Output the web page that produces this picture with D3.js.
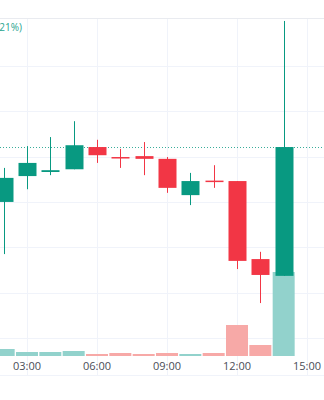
<!DOCTYPE html>
<html>
<head>
<meta charset="utf-8">
<script src="https://cdn.jsdelivr.net/npm/d3@7"></script>
<style>
  html, body { margin: 0; padding: 0; background: #fff; }
  svg { display: block; font-family: "Open Sans", "Noto Sans", sans-serif; }
</style>
</head>
<body>
<svg id="chart" width="324" height="400"></svg>
<script>
// hourly candles, 02:00 .. 14:00
var hours = [2, 3, 4, 5, 6, 7, 8, 9, 10, 11, 12, 13, 14];
var opens  = [13.00, 13.57, 13.66, 13.72, 14.21, 13.99, 14.01, 13.95, 13.15, 13.47, 13.46, 11.74, 11.37];
var highs  = [13.75, 14.23, 14.43, 14.78, 14.37, 14.17, 14.32, 13.99, 13.64, 13.81, 13.46, 11.90, 16.99];
var lows   = [11.85, 13.28, 13.59, 13.72, 13.86, 13.75, 13.59, 13.20, 12.93, 13.31, 11.52, 10.77, 11.37];
var closes = [13.53, 13.86, 13.70, 14.25, 14.03, 13.97, 13.95, 13.31, 13.46, 13.45, 11.70, 11.39, 14.21];
var volumes = [700, 400, 400, 500, 200, 300, 200, 300, 200, 300, 3100, 1100, 8400];

var timeTicks = [3, 6, 9, 12, 15];
var priceTicks = [10, 11, 12, 13, 14, 15, 16, 17];
var changeLabel = '+0.68 (+5.21%)';

var svg = d3.select('#chart');
var width = 324;

var up = '#089981', down = '#f23645';
var volUp = '#92d2cc', volDown = '#f7a9a7';

var x = d3.scaleLinear().domain([3, 15]).range([27, 307]);
var y = d3.scaleLinear().domain([10, 17]).range([338, 20.5]);
var yVol = d3.scaleLinear().domain([0, 10000]).range([356, 256]);

var candles = hours.map(function(h, i) {
    return {t: h, o: opens[i], h: highs[i], l: lows[i], c: closes[i], v: volumes[i]};
});

// grid
svg.append('g').selectAll('line')
    .data(priceTicks.slice(0, -1))
    .enter().append('line')
    .attr('x1', 0).attr('x2', width)
    .attr('y1', function(d) { return Math.round(y(d)) + 0.5; })
    .attr('y2', function(d) { return Math.round(y(d)) + 0.5; })
    .attr('stroke', '#f0f3fa');

svg.append('g').selectAll('line')
    .data(timeTicks)
    .enter().append('line')
    .attr('y1', 18).attr('y2', 375)
    .attr('x1', function(d) { return Math.round(x(d)) + 0.5; })
    .attr('x2', function(d) { return Math.round(x(d)) + 0.5; })
    .attr('stroke', '#f0f3fa');

// pane borders
svg.append('line').attr('x1', 0).attr('x2', width).attr('y1', 18.5).attr('y2', 18.5)
    .attr('stroke', '#e9ebf0');
svg.append('line').attr('x1', 0).attr('x2', width).attr('y1', 375.5).attr('y2', 375.5)
    .attr('stroke', '#f0f3fa');

// volume
var barW = 22;
svg.append('g').selectAll('rect')
    .data(candles)
    .enter().append('rect')
    .attr('x', function(d) { return x(d.t) - barW / 2; })
    .attr('width', barW)
    .attr('y', function(d) { return yVol(d.v); })
    .attr('height', function(d) { return yVol(0) - yVol(d.v); })
    .attr('fill', function(d) { return d.c >= d.o ? volUp : volDown; });

// last price line
var last = candles[candles.length - 1];
svg.append('line')
    .attr('x1', 0).attr('x2', width)
    .attr('y1', Math.round(y(last.c)) + 0.5).attr('y2', Math.round(y(last.c)) + 0.5)
    .attr('stroke', up).attr('stroke-width', 1).attr('stroke-dasharray', '1,2')
    .attr('opacity', 0.8);

// candles
var bodyW = 18;
var g = svg.append('g').selectAll('g')
    .data(candles)
    .enter().append('g');

g.append('line')
    .attr('x1', function(d) { return Math.round(x(d.t)) + 0.5; })
    .attr('x2', function(d) { return Math.round(x(d.t)) + 0.5; })
    .attr('y1', function(d) { return y(d.h); })
    .attr('y2', function(d) { return y(d.l); })
    .attr('stroke', function(d) { return d.c >= d.o ? up : down; });

g.append('rect')
    .attr('x', function(d) { return Math.round(x(d.t)) + 0.5 - bodyW / 2; })
    .attr('width', bodyW)
    .attr('y', function(d) { return y(Math.max(d.o, d.c)); })
    .attr('height', function(d) { return Math.max(1.5, Math.abs(y(d.o) - y(d.c))); })
    .attr('fill', function(d) { return d.c >= d.o ? up : down; });

// time axis labels
svg.append('g').selectAll('text')
    .data(timeTicks)
    .enter().append('text')
    .attr('x', function(d) { return x(d); })
    .attr('y', 370)
    .attr('text-anchor', 'middle')
    .attr('font-size', 11)
    .attr('fill', '#4a4d57')
    .text(function(d) { return d3.format('02d')(d) + ':00'; });

// legend change value (cut off at left edge, as in the source view)
svg.append('text')
    .attr('x', 22).attr('y', 31)
    .attr('text-anchor', 'end')
    .attr('font-size', 10)
    .attr('fill', '#2aa590')
    .text(changeLabel);
</script>
</body>
</html>
